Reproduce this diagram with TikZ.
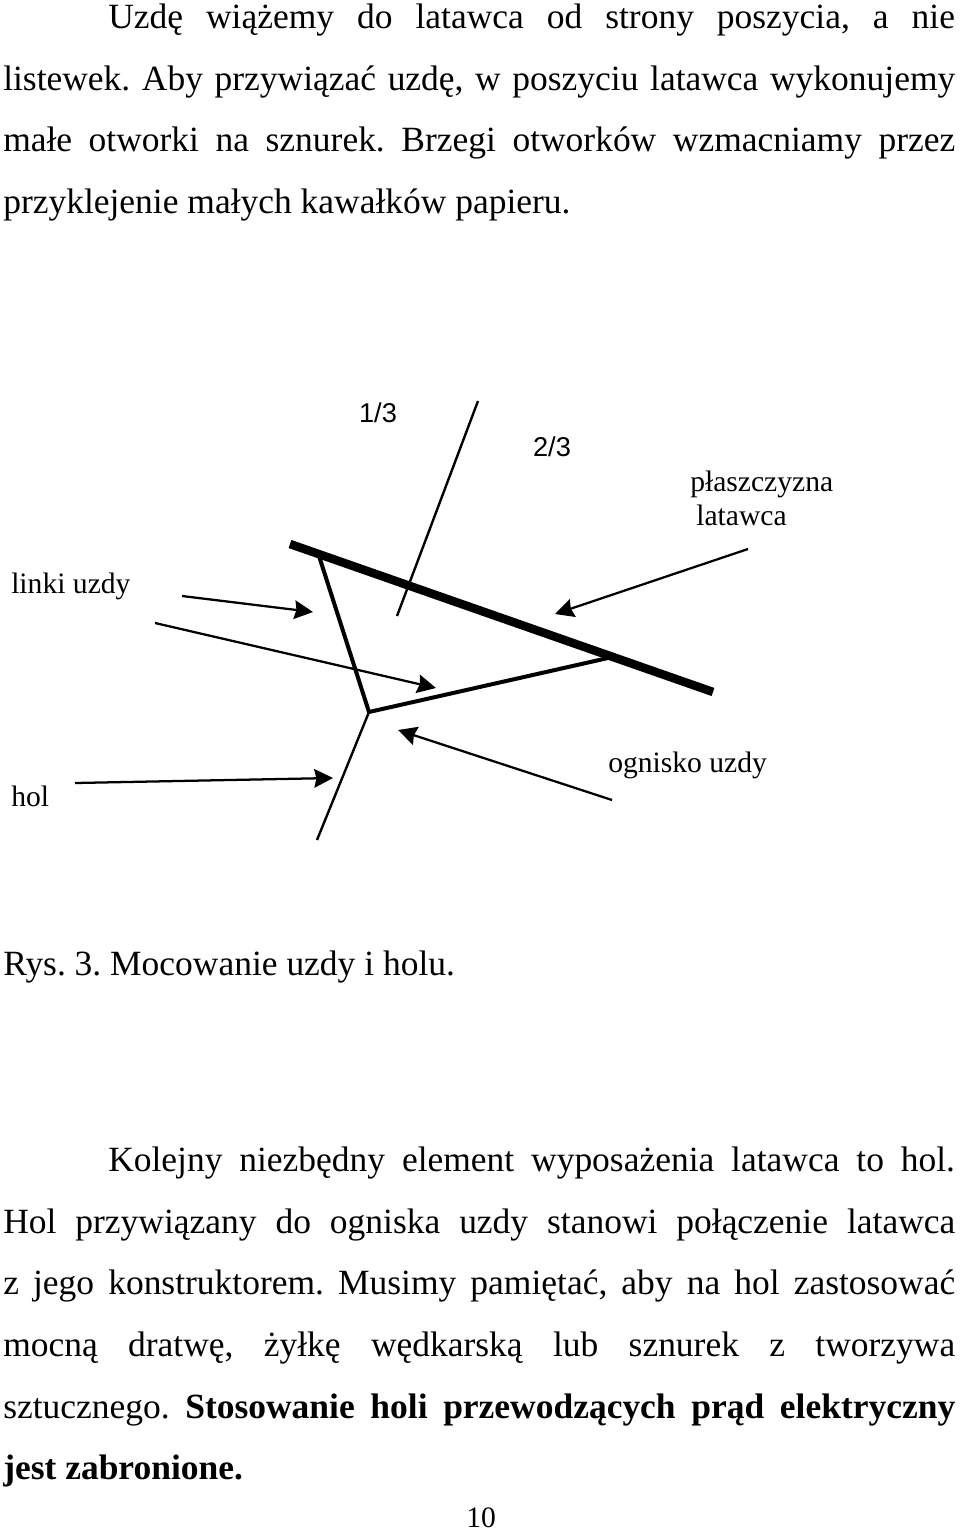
\documentclass[tikz,border=0pt]{standalone}
\usepackage{fontspec}
\setmainfont{Liberation Serif}
\newfontfamily\labelsans{Liberation Sans}
\usetikzlibrary{arrows.meta}
\newcommand{\fullline}[1]{\makebox[714pt][s]{#1}}
\newcommand{\firstline}[1]{\makebox[635pt][s]{#1}}
\frenchspacing

\begin{document}
\begin{tikzpicture}[x=0.75pt,y=-0.75pt,
	body_line/.style={anchor=base west,inner sep=0pt,font=\fontsize{26.6}{26.6}\selectfont},
	small_label/.style={anchor=base west,inner sep=0pt,font=\fontsize{22.2}{22.2}\selectfont},
	sans_label/.style={anchor=center,inner sep=0pt,font=\labelsans\fontsize{20.4}{20.4}\selectfont},
	kite_line/.style={line width=6.4pt},
	bridle_line/.style={line width=3pt},
	thin_line/.style={line width=1.8pt},
	pointer/.style={line width=1.7pt,-{Stealth[length=14pt,width=14pt,inset=1.5pt]}}]

		\useasboundingbox (0,0) rectangle (960,1531);

		\node[body_line] (line1) at (108,28) {\firstline{Uzdę wiążemy do latawca od strony poszycia, a nie}};
		\node[body_line] (line2) at (3,90) {\fullline{listewek. Aby przywiązać uzdę, w poszyciu latawca wykonujemy}};
		\node[body_line] (line3) at (3,151) {\fullline{małe otworki na sznurek. Brzegi otworków wzmacniamy przez}};
		\node[body_line] (line4) at (3,213) {przyklejenie małych kawałków papieru.};

		\node[sans_label] (third) at (378,413) {1/3};
		\node[sans_label] (twothirds) at (552,447) {2/3};
		\node[small_label] (plane1) at (690,491) {płaszczyzna};
		\node[small_label] (plane2) at (696,525) {latawca};
		\node[small_label] (bridle) at (11,593) {linki uzdy};
		\node[small_label] (focus) at (608,772) {ognisko uzdy};
		\node[small_label] (tow) at (11,806) {hol};

		\coordinate (kite_a) at (290,544);
		\coordinate (kite_b) at (713,692);
		\coordinate (axis_a) at (478,401);
		\coordinate (axis_b) at (397,616);
		\coordinate (top_knot) at (319,556);
		\coordinate (low_knot) at (608,658);
		\coordinate (focus_pt) at (369,712);
		\coordinate (tow_end) at (317,840);

		\draw[kite_line] (kite_a) -- (kite_b);
		\draw[thin_line] (axis_a) -- (axis_b);
		\draw[bridle_line] (top_knot) -- (focus_pt) -- (low_knot);
		\draw[thin_line] (focus_pt) -- (tow_end);

		\coordinate (p1_a) at (182,596);
		\coordinate (p1_b) at (313,612);
		\coordinate (p2_a) at (155,623);
		\coordinate (p2_b) at (436,688);
		\coordinate (p3_a) at (748,549);
		\coordinate (p3_b) at (555,614);
		\coordinate (p4_a) at (612,800);
		\coordinate (p4_b) at (398,730);
		\coordinate (p5_a) at (75,783);
		\coordinate (p5_b) at (333,778);

		\draw[pointer] (p1_a) -- (p1_b);
		\draw[pointer] (p2_a) -- (p2_b);
		\draw[pointer] (p3_a) -- (p3_b);
		\draw[pointer] (p4_a) -- (p4_b);
		\draw[pointer] (p5_a) -- (p5_b);

		\node[body_line] (caption) at (3,975) {Rys. 3. Mocowanie uzdy i holu.};

		\node[body_line] (line5) at (108,1171) {\firstline{Kolejny niezbędny element wyposażenia latawca to hol.}};
		\node[body_line] (line6) at (3,1233) {\fullline{Hol przywiązany do ogniska uzdy stanowi połączenie latawca}};
		\node[body_line] (line7) at (3,1294) {\fullline{z jego konstruktorem. Musimy pamiętać, aby na hol zastosować}};
		\node[body_line] (line8) at (3,1356) {\fullline{mocną dratwę, żyłkę wędkarską lub sznurek z tworzywa}};
		\node[body_line] (line9) at (3,1418) {\fullline{sztucznego. \textbf{Stosowanie holi przewodzących prąd elektryczny}}};
		\node[body_line] (line10) at (3,1479) {\textbf{jest zabronione.}};

		\node[small_label] (pagenum) at (466,1527) {10};
\end{tikzpicture}
\end{document}
